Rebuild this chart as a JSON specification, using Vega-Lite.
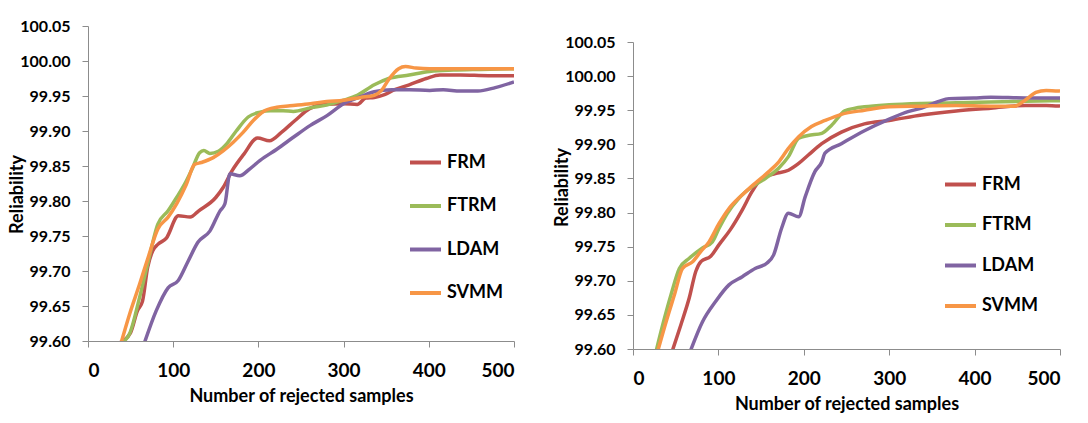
{
  "$schema": "https://vega.github.io/schema/vega-lite/v6.json",
  "padding": {"left": 8, "top": 18, "right": 0, "bottom": 0},
  "background": "white",
  "spacing": 38,
  "config": {
    "view": {"stroke": null},
    "font": "Lato",
    "axis": {
      "grid": false,
      "labelFont": "Lato",
      "labelFontWeight": "bold",
      "labelColor": "#000000",
      "titleFont": "Lato",
      "titleFontWeight": "bold",
      "titleColor": "#000000",
      "titleFontSize": 18,
      "domainColor": "#8c8c8c",
      "tickColor": "#8c8c8c",
      "tickSize": 6
    },
    "axisX": {"labelFontSize": 19, "labelPadding": 14, "titlePadding": 7},
    "axisY": {"labelFontSize": 16, "labelPadding": 12},
    "legend": {
      "labelFont": "Lato",
      "labelFontWeight": "bold",
      "labelFontSize": 18,
      "labelColor": "#000000",
      "symbolType": "stroke",
      "symbolStrokeWidth": 4,
      "symbolSize": 961,
      "labelOffset": 4,
      "padding": 0,
      "title": null
    }
  },
  "datasets": {
    "left": [
      {"m":"FRM","x":38,"y":99.598},{"m":"FRM","x":50,"y":99.612},{"m":"FRM","x":58,"y":99.643},{"m":"FRM","x":64,"y":99.657},{"m":"FRM","x":70,"y":99.705},{"m":"FRM","x":76,"y":99.729},{"m":"FRM","x":82,"y":99.738},{"m":"FRM","x":92,"y":99.747},{"m":"FRM","x":106,"y":99.779},{"m":"FRM","x":120,"y":99.777},{"m":"FRM","x":130,"y":99.786},{"m":"FRM","x":150,"y":99.805},{"m":"FRM","x":159,"y":99.82},{"m":"FRM","x":169,"y":99.843},{"m":"FRM","x":183,"y":99.867},{"m":"FRM","x":199,"y":99.89},{"m":"FRM","x":213,"y":99.886},{"m":"FRM","x":227,"y":99.898},{"m":"FRM","x":243,"y":99.915},{"m":"FRM","x":260,"y":99.932},{"m":"FRM","x":276,"y":99.938},{"m":"FRM","x":300,"y":99.939},{"m":"FRM","x":316,"y":99.938},{"m":"FRM","x":326,"y":99.947},{"m":"FRM","x":336,"y":99.948},{"m":"FRM","x":348,"y":99.952},{"m":"FRM","x":360,"y":99.959},{"m":"FRM","x":377,"y":99.966},{"m":"FRM","x":397,"y":99.975},{"m":"FRM","x":413,"y":99.98},{"m":"FRM","x":437,"y":99.98},{"m":"FRM","x":470,"y":99.979},{"m":"FRM","x":500,"y":99.979},
      {"m":"FTRM","x":40,"y":99.598},{"m":"FTRM","x":48.7,"y":99.61},{"m":"FTRM","x":60.5,"y":99.662},{"m":"FTRM","x":70,"y":99.71},{"m":"FTRM","x":82,"y":99.767},{"m":"FTRM","x":94,"y":99.786},{"m":"FTRM","x":104,"y":99.805},{"m":"FTRM","x":115.5,"y":99.829},{"m":"FTRM","x":123,"y":99.848},{"m":"FTRM","x":131,"y":99.869},{"m":"FTRM","x":136,"y":99.872},{"m":"FTRM","x":143,"y":99.868},{"m":"FTRM","x":153,"y":99.871},{"m":"FTRM","x":163,"y":99.882},{"m":"FTRM","x":174,"y":99.9},{"m":"FTRM","x":188,"y":99.92},{"m":"FTRM","x":202,"y":99.927},{"m":"FTRM","x":214,"y":99.929},{"m":"FTRM","x":229,"y":99.929},{"m":"FTRM","x":241,"y":99.928},{"m":"FTRM","x":261,"y":99.933},{"m":"FTRM","x":280,"y":99.937},{"m":"FTRM","x":300,"y":99.944},{"m":"FTRM","x":316,"y":99.951},{"m":"FTRM","x":336,"y":99.966},{"m":"FTRM","x":353,"y":99.975},{"m":"FTRM","x":377,"y":99.98},{"m":"FTRM","x":401,"y":99.985},{"m":"FTRM","x":429,"y":99.987},{"m":"FTRM","x":460,"y":99.988},{"m":"FTRM","x":500,"y":99.989},
      {"m":"LDAM","x":66.4,"y":99.598},{"m":"LDAM","x":80,"y":99.643},{"m":"LDAM","x":94,"y":99.676},{"m":"LDAM","x":105.7,"y":99.686},{"m":"LDAM","x":117.5,"y":99.714},{"m":"LDAM","x":129,"y":99.741},{"m":"LDAM","x":143,"y":99.757},{"m":"LDAM","x":155,"y":99.786},{"m":"LDAM","x":160.7,"y":99.796},{"m":"LDAM","x":166.6,"y":99.839},{"m":"LDAM","x":178,"y":99.836},{"m":"LDAM","x":190,"y":99.846},{"m":"LDAM","x":202,"y":99.858},{"m":"LDAM","x":221.6,"y":99.874},{"m":"LDAM","x":241,"y":99.891},{"m":"LDAM","x":261,"y":99.908},{"m":"LDAM","x":280.5,"y":99.922},{"m":"LDAM","x":300,"y":99.939},{"m":"LDAM","x":320,"y":99.949},{"m":"LDAM","x":336,"y":99.956},{"m":"LDAM","x":356.6,"y":99.959},{"m":"LDAM","x":377,"y":99.959},{"m":"LDAM","x":401,"y":99.958},{"m":"LDAM","x":417,"y":99.959},{"m":"LDAM","x":437,"y":99.957},{"m":"LDAM","x":457.6,"y":99.957},{"m":"LDAM","x":478,"y":99.962},{"m":"LDAM","x":500,"y":99.97},
      {"m":"SVMM","x":39,"y":99.598},{"m":"SVMM","x":48.7,"y":99.638},{"m":"SVMM","x":60.5,"y":99.681},{"m":"SVMM","x":70,"y":99.717},{"m":"SVMM","x":82,"y":99.76},{"m":"SVMM","x":94,"y":99.777},{"m":"SVMM","x":104,"y":99.796},{"m":"SVMM","x":115.5,"y":99.824},{"m":"SVMM","x":125,"y":99.852},{"m":"SVMM","x":133,"y":99.855},{"m":"SVMM","x":147,"y":99.862},{"m":"SVMM","x":159,"y":99.872},{"m":"SVMM","x":170.5,"y":99.884},{"m":"SVMM","x":182,"y":99.898},{"m":"SVMM","x":194,"y":99.915},{"m":"SVMM","x":206,"y":99.928},{"m":"SVMM","x":221.6,"y":99.934},{"m":"SVMM","x":237,"y":99.936},{"m":"SVMM","x":261,"y":99.939},{"m":"SVMM","x":280,"y":99.942},{"m":"SVMM","x":300,"y":99.944},{"m":"SVMM","x":320,"y":99.948},{"m":"SVMM","x":336,"y":99.951},{"m":"SVMM","x":344.5,"y":99.958},{"m":"SVMM","x":352.6,"y":99.973},{"m":"SVMM","x":364.6,"y":99.989},{"m":"SVMM","x":372.7,"y":99.992},{"m":"SVMM","x":385,"y":99.99},{"m":"SVMM","x":401,"y":99.989},{"m":"SVMM","x":450,"y":99.989},{"m":"SVMM","x":500,"y":99.989}
    ],
    "right": [
      {"m":"FRM","x":46.5,"y":99.599},{"m":"FRM","x":56.2,"y":99.636},{"m":"FRM","x":65.9,"y":99.675},{"m":"FRM","x":73.6,"y":99.714},{"m":"FRM","x":79.5,"y":99.728},{"m":"FRM","x":91,"y":99.736},{"m":"FRM","x":100.8,"y":99.753},{"m":"FRM","x":114,"y":99.775},{"m":"FRM","x":128,"y":99.804},{"m":"FRM","x":139.5,"y":99.831},{"m":"FRM","x":151,"y":99.85},{"m":"FRM","x":166.7,"y":99.857},{"m":"FRM","x":182,"y":99.862},{"m":"FRM","x":194,"y":99.872},{"m":"FRM","x":205,"y":99.884},{"m":"FRM","x":221,"y":99.901},{"m":"FRM","x":244,"y":99.918},{"m":"FRM","x":271,"y":99.93},{"m":"FRM","x":300,"y":99.935},{"m":"FRM","x":338,"y":99.943},{"m":"FRM","x":378.5,"y":99.949},{"m":"FRM","x":419,"y":99.953},{"m":"FRM","x":459.5,"y":99.957},{"m":"FRM","x":484,"y":99.957},{"m":"FRM","x":500,"y":99.956},
      {"m":"FTRM","x":27.1,"y":99.597},{"m":"FTRM","x":34.9,"y":99.636},{"m":"FTRM","x":44.6,"y":99.68},{"m":"FTRM","x":54.3,"y":99.718},{"m":"FTRM","x":65.9,"y":99.733},{"m":"FTRM","x":81.4,"y":99.748},{"m":"FTRM","x":93,"y":99.757},{"m":"FTRM","x":100.8,"y":99.777},{"m":"FTRM","x":110.5,"y":99.799},{"m":"FTRM","x":124,"y":99.821},{"m":"FTRM","x":139.5,"y":99.838},{"m":"FTRM","x":155,"y":99.85},{"m":"FTRM","x":170.5,"y":99.865},{"m":"FTRM","x":182,"y":99.882},{"m":"FTRM","x":194,"y":99.909},{"m":"FTRM","x":205,"y":99.913},{"m":"FTRM","x":221,"y":99.916},{"m":"FTRM","x":232.6,"y":99.928},{"m":"FTRM","x":248,"y":99.949},{"m":"FTRM","x":260,"y":99.953},{"m":"FTRM","x":271,"y":99.955},{"m":"FTRM","x":300,"y":99.958},{"m":"FTRM","x":338,"y":99.96},{"m":"FTRM","x":378.5,"y":99.961},{"m":"FTRM","x":419,"y":99.962},{"m":"FTRM","x":459.5,"y":99.963},{"m":"FTRM","x":500,"y":99.964},
      {"m":"LDAM","x":67.8,"y":99.599},{"m":"LDAM","x":81.4,"y":99.64},{"m":"LDAM","x":96.9,"y":99.67},{"m":"LDAM","x":112.4,"y":99.694},{"m":"LDAM","x":128,"y":99.706},{"m":"LDAM","x":143,"y":99.718},{"m":"LDAM","x":157,"y":99.726},{"m":"LDAM","x":164.7,"y":99.738},{"m":"LDAM","x":174,"y":99.777},{"m":"LDAM","x":182,"y":99.799},{"m":"LDAM","x":194,"y":99.794},{"m":"LDAM","x":201.6,"y":99.823},{"m":"LDAM","x":213,"y":99.86},{"m":"LDAM","x":221,"y":99.874},{"m":"LDAM","x":224.8,"y":99.887},{"m":"LDAM","x":244,"y":99.901},{"m":"LDAM","x":271,"y":99.92},{"m":"LDAM","x":300,"y":99.937},{"m":"LDAM","x":322,"y":99.948},{"m":"LDAM","x":338,"y":99.953},{"m":"LDAM","x":358,"y":99.963},{"m":"LDAM","x":370,"y":99.967},{"m":"LDAM","x":399,"y":99.968},{"m":"LDAM","x":419,"y":99.969},{"m":"LDAM","x":459.5,"y":99.968},{"m":"LDAM","x":500,"y":99.968},
      {"m":"SVMM","x":29,"y":99.597},{"m":"SVMM","x":38.8,"y":99.64},{"m":"SVMM","x":48.4,"y":99.679},{"m":"SVMM","x":58,"y":99.718},{"m":"SVMM","x":69.8,"y":99.728},{"m":"SVMM","x":79.5,"y":99.743},{"m":"SVMM","x":89,"y":99.757},{"m":"SVMM","x":100.8,"y":99.784},{"m":"SVMM","x":112.4,"y":99.806},{"m":"SVMM","x":128,"y":99.826},{"m":"SVMM","x":143,"y":99.843},{"m":"SVMM","x":159,"y":99.86},{"m":"SVMM","x":170.5,"y":99.874},{"m":"SVMM","x":182,"y":99.894},{"m":"SVMM","x":194,"y":99.911},{"m":"SVMM","x":209,"y":99.926},{"m":"SVMM","x":225,"y":99.935},{"m":"SVMM","x":244,"y":99.944},{"m":"SVMM","x":271,"y":99.95},{"m":"SVMM","x":300,"y":99.955},{"m":"SVMM","x":338,"y":99.956},{"m":"SVMM","x":378.5,"y":99.957},{"m":"SVMM","x":419,"y":99.956},{"m":"SVMM","x":447,"y":99.956},{"m":"SVMM","x":459.5,"y":99.965},{"m":"SVMM","x":471.7,"y":99.976},{"m":"SVMM","x":483.8,"y":99.979},{"m":"SVMM","x":500,"y":99.978}
    ]
  },
  "resolve": {"legend": {"color": "independent"}, "scale": {"y": "independent", "x": "independent"}},
  "hconcat": [
    {
      "width": 426,
      "height": 315,
      "data": {"name": "left"},
      "mark": {"type": "line", "interpolate": "monotone", "strokeWidth": 3.5, "clip": true},
      "encoding": {
        "x": {"field": "x", "type": "quantitative", "scale": {"domain": [0, 500], "nice": false},
              "axis": {"values": [0, 100, 200, 300, 400, 500], "title": "Number of rejected samples"}},
        "y": {"field": "y", "type": "quantitative", "scale": {"domain": [99.6, 100.05], "nice": false, "zero": false},
              "axis": {"values": [99.6, 99.65, 99.7, 99.75, 99.8, 99.85, 99.9, 99.95, 100.0, 100.05], "format": ".2f",
                       "title": "Reliability", "titleX": -62, "titleY": 168}},
        "color": {"field": "m", "type": "nominal",
                  "scale": {"domain": ["FRM", "FTRM", "LDAM", "SVMM"], "range": ["#C0504D", "#9BBB59", "#8064A2", "#F79646"]},
                  "legend": {"orient": "none", "legendX": 320, "legendY": 119, "rowPadding": 16.5}}
      }
    },
    {
      "spacing": 7,
      "vconcat": [
        {
          "width": 427,
          "height": 1,
          "data": {"values": []},
          "mark": {"type": "point", "opacity": 0},
          "encoding": {}
        },
        {
          "width": 427,
          "height": 307,
          "data": {"name": "right"},
          "mark": {"type": "line", "interpolate": "monotone", "strokeWidth": 3.5, "clip": true},
          "encoding": {
            "x": {"field": "x", "type": "quantitative", "scale": {"domain": [0, 500], "nice": false},
                  "axis": {"values": [0, 100, 200, 300, 400, 500], "title": "Number of rejected samples"}},
            "y": {"field": "y", "type": "quantitative", "scale": {"domain": [99.6, 100.05], "nice": false, "zero": false},
                  "axis": {"values": [99.6, 99.65, 99.7, 99.75, 99.8, 99.85, 99.9, 99.95, 100.0, 100.05], "format": ".2f",
                           "title": "Reliability", "titleX": -62, "titleY": 145}},
            "color": {"field": "m", "type": "nominal",
                      "scale": {"domain": ["FRM", "FTRM", "LDAM", "SVMM"], "range": ["#C0504D", "#9BBB59", "#8064A2", "#F79646"]},
                      "legend": {"orient": "none", "legendX": 310, "legendY": 141, "rowPadding": 13.5}}
          }
        }
      ]
    }
  ]
}
